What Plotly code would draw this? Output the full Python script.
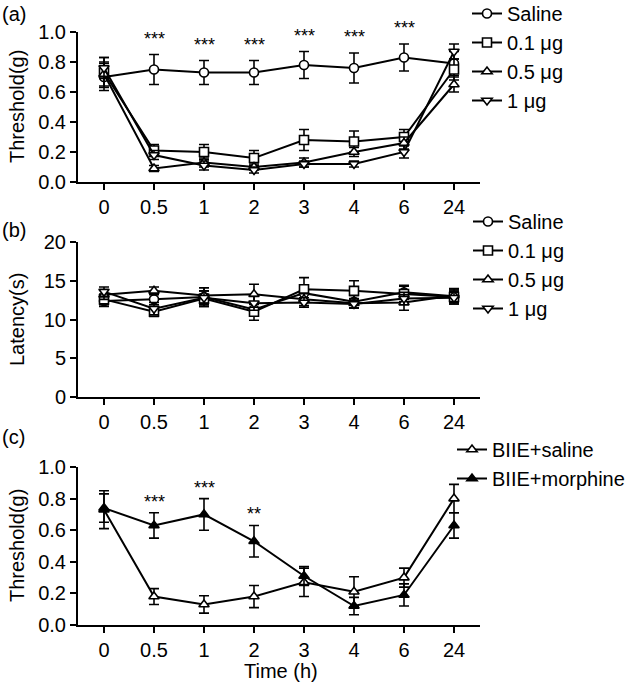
import plotly.graph_objects as go

W, H = 633, 685

# ---------------- data ----------------
times = ["0", "0.5", "1", "2", "3", "4", "6", "24"]

# Panel (a) mechanical threshold (g)
a_saline = [0.70, 0.75, 0.73, 0.73, 0.78, 0.76, 0.83, 0.79]
a_saline_err = [0.09, 0.10, 0.08, 0.08, 0.09, 0.10, 0.09, 0.08]
a_01 = [0.73, 0.21, 0.20, 0.16, 0.28, 0.27, 0.30, 0.75]
a_01_err = [0.10, 0.04, 0.05, 0.05, 0.07, 0.07, 0.05, 0.07]
a_05 = [0.72, 0.09, 0.13, 0.10, 0.13, 0.20, 0.26, 0.65]
a_05_err = [0.08, 0.02, 0.03, 0.02, 0.03, 0.03, 0.04, 0.05]
a_1 = [0.76, 0.18, 0.11, 0.08, 0.12, 0.12, 0.20, 0.87]
a_1_err = [0.07, 0.03, 0.03, 0.02, 0.02, 0.02, 0.04, 0.05]
a_stars = ["", "***", "***", "***", "***", "***", "***", ""]

# Panel (b) latency (s)
b_saline = [12.4, 12.6, 12.9, 11.3, 13.4, 12.3, 13.5, 13.0]
b_saline_err = [0.7, 0.7, 1.2, 0.8, 0.9, 0.8, 0.9, 0.8]
b_01 = [12.6, 11.0, 12.7, 11.0, 13.9, 13.7, 13.3, 12.9]
b_01_err = [0.7, 0.6, 1.0, 1.1, 1.5, 1.3, 1.0, 0.9]
b_05 = [13.2, 13.7, 13.1, 13.25, 12.6, 12.1, 12.2, 13.1]
b_05_err = [0.6, 0.5, 1.0, 1.3, 0.8, 0.6, 1.0, 0.9]
b_1 = [13.6, 11.4, 12.8, 12.1, 12.2, 12.0, 12.7, 12.8]
b_1_err = [0.6, 0.8, 0.9, 0.9, 0.6, 0.5, 0.8, 0.8]

# Panel (c) threshold (g)
c_saline = [0.73, 0.18, 0.13, 0.18, 0.27, 0.21, 0.30, 0.80]
c_saline_err = [0.12, 0.05, 0.055, 0.07, 0.09, 0.095, 0.06, 0.09]
c_morph = [0.74, 0.63, 0.70, 0.53, 0.31, 0.12, 0.19, 0.63]
c_morph_err = [0.09, 0.08, 0.10, 0.10, 0.06, 0.055, 0.07, 0.08]
c_stars = ["", "***", "***", "**", "", "", "", ""]

a_names = ["Saline", "0.1 μg", "0.5 μg", "1 μg"]
c_names = ["BIIE+saline", "BIIE+morphine"]

FONT = "Liberation Sans, Arial, sans-serif"
fig = go.Figure()


def add_series(y, err, name, symbol, fill, xa, ya, legend):
    fig.add_trace(go.Scatter(
        x=times, y=y, name=name, mode="lines+markers",
        xaxis=xa, yaxis=ya, legend=legend,
        line=dict(color="black", width=2),
        marker=dict(symbol=symbol, size=9, color=fill,
                    line=dict(color="black", width=1.6)),
        error_y=dict(type="data", array=err, color="black",
                     thickness=1.6, width=5),
    ))


syms = ["circle", "square", "triangle-up", "triangle-down"]
for vals, errs, nm, sy in zip([a_saline, a_01, a_05, a_1],
                              [a_saline_err, a_01_err, a_05_err, a_1_err],
                              a_names, syms):
    add_series(vals, errs, nm, sy, "white", "x", "y", "legend")
for vals, errs, nm, sy in zip([b_saline, b_01, b_05, b_1],
                              [b_saline_err, b_01_err, b_05_err, b_1_err],
                              a_names, syms):
    add_series(vals, errs, nm, sy, "white", "x2", "y2", "legend2")
add_series(c_saline, c_saline_err, c_names[0], "triangle-up", "white",
           "x3", "y3", "legend3")
add_series(c_morph, c_morph_err, c_names[1], "triangle-up", "black",
           "x3", "y3", "legend3")


def px_x(p):
    return p / W


def px_y(p):
    return 1 - p / H


x_left, x_right = px_x(78), px_x(480)
axis_common = dict(showline=True, linecolor="black", linewidth=2,
                   ticks="outside", ticklen=6, tickwidth=2, tickcolor="black",
                   showgrid=False, zeroline=False, automargin=False,
                   tickfont=dict(family=FONT, size=20, color="black"))
xcommon = dict(axis_common, type="category", categoryorder="array",
               categoryarray=times, range=[-0.52, 7.52],
               domain=[x_left, x_right])

fig.update_layout(
    width=W, height=H,
    margin=dict(l=0, r=0, t=0, b=0, pad=0, autoexpand=False),
    paper_bgcolor="white", plot_bgcolor="white",
    font=dict(family=FONT, size=20, color="black"),
    xaxis=dict(xcommon, anchor="y"),
    xaxis2=dict(xcommon, anchor="y2"),
    xaxis3=dict(xcommon, anchor="y3"),
    yaxis=dict(axis_common, anchor="x", range=[0, 1.0], tickvals=[0, 0.2, 0.4, 0.6, 0.8, 1.0],
               tickformat=".1f", domain=[px_y(182), px_y(32)]),
    yaxis2=dict(axis_common, anchor="x2", range=[0, 20], tickvals=[0, 5, 10, 15, 20],
                domain=[px_y(397), px_y(242)]),
    yaxis3=dict(axis_common, anchor="x3", range=[0, 1.0], tickvals=[0, 0.2, 0.4, 0.6, 0.8, 1.0],
                tickformat=".1f", domain=[px_y(625), px_y(467)]),
    showlegend=True,
)

leg_common = dict(bgcolor="rgba(0,0,0,0)", borderwidth=0,
                  font=dict(family=FONT, size=20, color="black"),
                  xanchor="left", yanchor="top", tracegroupgap=0)
fig.update_layout(
    legend=dict(leg_common, x=px_x(467), y=px_y(-6)),
    legend2=dict(leg_common, x=px_x(468), y=px_y(202)),
    legend3=dict(leg_common, x=px_x(452), y=px_y(430)),
)

anns = []
# Panel letters
for lab, yc in [("(a)", 14), ("(b)", 230), ("(c)", 437)]:
    anns.append(dict(text=lab, x=0, y=px_y(yc), xref="paper", yref="paper",
                     xanchor="left", yanchor="middle", showarrow=False,
                     font=dict(family=FONT, size=20, color="black")))
# Y titles
for lab, yc in [("Threshold(g)", 107), ("Latency(s)", 320), ("Threshold(g)", 546)]:
    anns.append(dict(text=lab, x=px_x(17), y=px_y(yc), xref="paper", yref="paper",
                     xanchor="center", yanchor="middle", textangle=-90, showarrow=False,
                     font=dict(family=FONT, size=20, color="black")))
# X title
anns.append(dict(text="Time (h)", x=px_x(281), y=px_y(671), xref="paper", yref="paper",
                 xanchor="center", yanchor="middle", showarrow=False,
                 font=dict(family=FONT, size=20, color="black")))
# Significance stars (category axes: position by category index)
for i, (s, v, e) in enumerate(zip(a_stars, a_saline, a_saline_err)):
    if s:
        anns.append(dict(text=s, x=i, y=v + e, xref="x", yref="y", xanchor="center",
                         yanchor="bottom", yshift=4, showarrow=False,
                         font=dict(family=FONT, size=18, color="black")))
for i, (s, v, e) in enumerate(zip(c_stars, c_morph, c_morph_err)):
    if s:
        anns.append(dict(text=s, x=i, y=v + e, xref="x3", yref="y3", xanchor="center",
                         yanchor="bottom", yshift=-1, showarrow=False,
                         font=dict(family=FONT, size=18, color="black")))
fig.update_layout(annotations=anns)

fig.write_html(
    "out.html",
    config={"displayModeBar": False},
    post_script="document.body.style.margin='0px';document.body.style.padding='0px';",
)
